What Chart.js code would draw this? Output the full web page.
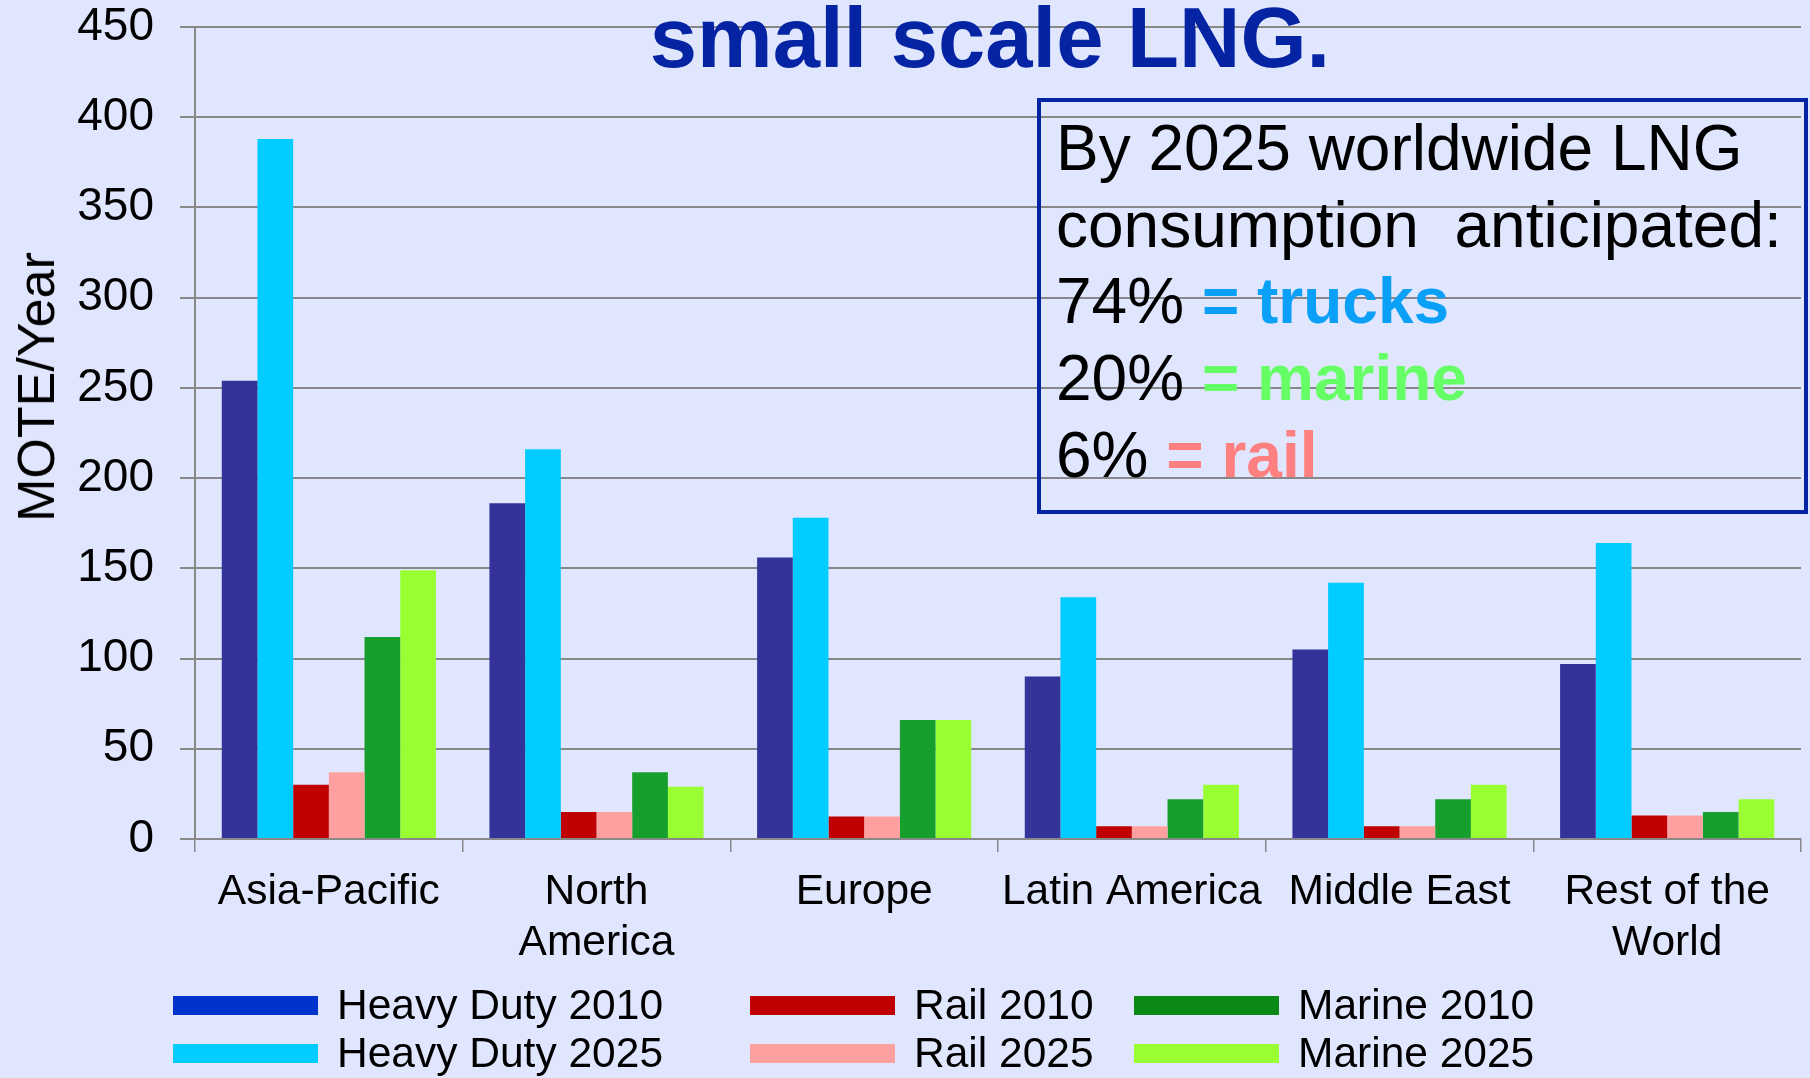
<!DOCTYPE html>
<html>
<head>
<meta charset="utf-8">
<script src="https://cdn.jsdelivr.net/npm/chart.js@4.4.1/dist/chart.umd.min.js"></script>
<style>
html,body{margin:0;padding:0;background:#E1E6FF;}
#wrap{position:relative;width:1810px;height:1078px;overflow:hidden;font-family:"Liberation Sans",Arial,sans-serif;background:#E1E6FF;}
#chart{position:absolute;left:0;top:0;}
#title{position:absolute;left:0;top:-5px;width:1980px;text-align:center;font-weight:bold;font-size:85px;line-height:85px;color:#0424A4;white-space:nowrap;}
#note{position:absolute;left:1037px;top:98px;width:771px;height:416px;box-sizing:border-box;border:4px solid #0424A4;padding:8px 0 0 15px;font-size:64px;line-height:76.7px;color:#000;white-space:pre;}
#note b{font-weight:bold;}
#ytitle{position:absolute;left:36px;top:387px;transform:translate(-50%,-50%) rotate(-90deg);font-size:52px;line-height:52px;white-space:nowrap;color:#000;}
#legend{position:absolute;left:173px;top:981px;display:grid;grid-template-columns:577px 384px auto;grid-template-rows:48px 48px;grid-auto-flow:column;}
.li{display:flex;align-items:center;font-size:42.5px;line-height:48px;color:#000;white-space:nowrap;}
.sw{width:145px;height:19px;margin-right:19px;flex:none;}
</style>
</head>
<body>
<div id="wrap">
  <canvas id="chart" width="1810" height="1078"></canvas>
  <div id="title">small scale LNG.</div>
  <div id="note">By 2025 worldwide LNG
consumption  anticipated:
74% <b style="color:#0AA0F8">= trucks</b>
20% <b style="color:#66FF66">= marine</b>
6% <b style="color:#FF8080">= rail</b></div>
  <div id="ytitle">MOTE/Year</div>
  <div id="legend"></div>
</div>
<script>
// ---- data ----
const categories = ['Asia-Pacific', ['North', 'America'], 'Europe', 'Latin America', 'Middle East', ['Rest of the', 'World']];
const seriesLabels = ['Heavy Duty 2010', 'Heavy Duty 2025', 'Rail 2010', 'Rail 2025', 'Marine 2010', 'Marine 2025'];
const heavyDuty2010 = [254, 186, 156, 90, 105, 97];
const heavyDuty2025 = [388, 216, 178, 134, 142, 164];
const rail2010 = [30, 15, 12.5, 7, 7, 13];
const rail2025 = [37, 15, 12.5, 7, 7, 13];
const marine2010 = [112, 37, 66, 22, 22, 15];
const marine2025 = [149, 29, 66, 30, 30, 22];
const yTickValues = [0, 50, 100, 150, 200, 250, 300, 350, 400, 450];
const yAxisTitle = 'MOTE/Year';

// ---- styles ----
const barColors = ['#333399', '#00CCFF', '#C00000', '#FFA0A0', '#169F2C', '#99FF33'];
const legendColors = ['#0033CC', '#00CCFF', '#C00000', '#FFA0A0', '#0A8A14', '#99FF33'];
const gridColor = '#888888';
const FONT = '"Liberation Sans", Arial, sans-serif';

Chart.defaults.font.family = FONT;
Chart.defaults.color = '#000';

const seriesValues = [heavyDuty2010, heavyDuty2025, rail2010, rail2025, marine2010, marine2025];
const datasets = seriesLabels.map((label, i) => ({
  label: label,
  data: seriesValues[i],
  backgroundColor: barColors[i],
  borderWidth: 0,
  categoryPercentage: 0.8,
  barPercentage: 1.0
}));

document.getElementById('ytitle').textContent = yAxisTitle;

const chart = new Chart(document.getElementById('chart'), {
  type: 'bar',
  data: { labels: categories, datasets: datasets },
  options: {
    responsive: false,
    animation: false,
    devicePixelRatio: 1,
    layout: { padding: { top: 27, right: 9, left: 0, bottom: 0 } },
    plugins: {
      legend: { display: false },
      title: { display: false },
      tooltip: { enabled: false }
    },
    scales: {
      x: {
        offset: true,
        grid: {
          display: true,
          drawOnChartArea: false,
          drawTicks: true,
          tickLength: 13,
          color: gridColor,
          lineWidth: 1.5
        },
        border: { display: true, color: gridColor, width: 2 },
        ticks: {
          font: { size: 42.5, lineHeight: 1.2 },
          color: '#000',
          padding: 15,
          maxRotation: 0,
          autoSkip: false
        },
        afterFit: (s) => { s.height = 239; s.paddingLeft = 0; s.paddingRight = 0; }
      },
      y: {
        min: yTickValues[0],
        max: yTickValues[yTickValues.length - 1],
        afterBuildTicks: (s) => { s.ticks = yTickValues.map(v => ({ value: v })); },
        grid: {
          color: gridColor,
          lineWidth: 2,
          drawTicks: true,
          tickLength: 15
        },
        border: { display: true, color: gridColor, width: 2 },
        ticks: {
          font: { size: 46 },
          color: '#000',
          padding: 26
        },
        afterFit: (s) => { s.width = 195; s.paddingTop = 0; s.paddingBottom = 0; }
      }
    }
  }
});

// legend built from the chart's datasets
const legendEl = document.getElementById('legend');
chart.data.datasets.forEach((ds, i) => {
  const item = document.createElement('div');
  item.className = 'li';
  const sw = document.createElement('span');
  sw.className = 'sw';
  sw.style.background = legendColors[i];
  const tx = document.createElement('span');
  tx.textContent = ds.label;
  item.appendChild(sw);
  item.appendChild(tx);
  legendEl.appendChild(item);
});
</script>
</body>
</html>
